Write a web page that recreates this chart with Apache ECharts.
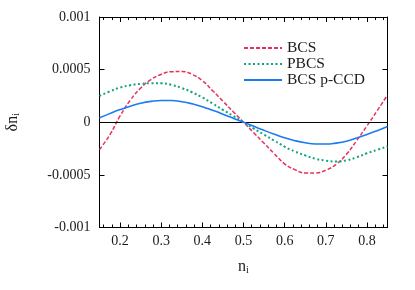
<!DOCTYPE html>
<html>
<head>
<meta charset="utf-8">
<script src="https://cdn.jsdelivr.net/npm/echarts@6/dist/echarts.min.js"></script>
<style>html,body{margin:0;padding:0;background:#fff}#c{width:415px;height:290px}</style>
</head>
<body>
<div id="c"></div>
<script>
const nValues = [0.15,0.175,0.2,0.225,0.25,0.275,0.3,0.325,0.35,0.375,0.4,0.425,0.45,0.475,0.5,0.525,0.55,0.575,0.6,0.625,0.65,0.675,0.7,0.725,0.75,0.775,0.8,0.825,0.85];
const bcs = [-0.00026,-0.00012,0.00006,0.00021,0.000325,0.000405,0.000455,0.00048,0.000482,0.000455,0.000395,0.0003,0.0002,0.0001,0,-0.0001,-0.0002,-0.0003,-0.000395,-0.00045,-0.000482,-0.000482,-0.000455,-0.0004,-0.000305,-0.000175,-0.000035,0.00011,0.00026];
const pbcs = [0.00025,0.000293,0.00033,0.000352,0.000365,0.000371,0.00037,0.000355,0.000325,0.000285,0.000235,0.000178,0.000118,0.00006,0,-0.00006,-0.000118,-0.000175,-0.000232,-0.000278,-0.000315,-0.000347,-0.000365,-0.000374,-0.000362,-0.000333,-0.000295,-0.000262,-0.00023];
const pccd = [0.000042,0.000082,0.00012,0.000153,0.00018,0.000198,0.000207,0.000206,0.000195,0.000175,0.000147,0.000113,0.000077,0.000039,0,-0.000039,-0.000077,-0.000113,-0.000147,-0.000175,-0.000195,-0.000206,-0.000207,-0.000198,-0.00018,-0.00015,-0.000117,-0.00008,-0.00004];
const seriesNames = ['BCS','PBCS','BCS p-CCD'];
const xMajorTicks = [0.2,0.3,0.4,0.5,0.6,0.7,0.8];
const xMinorTicks = [0.16,0.18,0.22,0.24,0.26,0.28,0.32,0.34,0.36,0.38,0.42,0.44,0.46,0.48,0.52,0.54,0.56,0.58,0.62,0.64,0.66,0.68,0.72,0.74,0.76,0.78,0.82,0.84];
const yTickLabels = {'0.001':'0.001','0.0005':'0.0005','0':'0','-0.0005':'-0.0005','-0.001':'-0.001'};

const FONT = 'Liberation Serif';
const txt = {fontFamily: FONT, fontSize: 14, color: '#1a1a1a'};
const X0 = 0.15, X1 = 0.85;
const nameRich = {
  a: {fontFamily: FONT, fontSize: 16, color: '#1a1a1a'},
  b: {fontFamily: FONT, fontSize: 10, color: '#1a1a1a', verticalAlign: 'bottom', padding: [8, 0, 0, 0]}
};

function xAxisDef(pos, ticks, len, showLabel, name) {
  return {
    type: 'value', position: pos, min: X0, max: X1,
    axisLine: {show: true, onZero: false, lineStyle: {color: '#000', width: 1}},
    axisTick: {show: true, inside: true, length: len, customValues: ticks, lineStyle: {color: '#000', width: 1}},
    axisLabel: showLabel ? Object.assign({show: true, margin: 7, customValues: ticks,
      formatter: v => String(Math.round(v * 10) / 10)}, txt) : {show: false},
    splitLine: {show: false},
    name: name || '', nameLocation: 'middle', nameGap: 30,
    nameTextStyle: {fontFamily: FONT, fontSize: 16, color: '#1a1a1a', rich: nameRich}
  };
}
function yAxisDef(pos, showLabel, name) {
  return {
    type: 'value', position: pos, min: -0.001, max: 0.001, interval: 0.0005,
    axisLine: {show: true, onZero: false, lineStyle: {color: '#000', width: 1}},
    axisTick: {show: true, inside: true, length: 5, lineStyle: {color: '#000', width: 1}},
    axisLabel: showLabel ? Object.assign({show: true, margin: 9,
      formatter: v => { const k = String(+v.toFixed(4)); return yTickLabels[k] !== undefined ? yTickLabels[k] : k; }}, txt) : {show: false},
    splitLine: {show: false},
    name: name || '', nameLocation: 'middle', nameRotate: 90, nameGap: 78,
    nameTextStyle: {fontFamily: FONT, fontSize: 16, color: '#1a1a1a', rich: nameRich}
  };
}

const colors = ['#e6325a', '#12a37a', '#1a7bf0'];
const dashes = [[4, 2], [2, 2.5], 'solid'];
const widths = [1.5, 2, 1.6];
const datasets = [bcs, pbcs, pccd];

const series = seriesNames.map((nm, k) => ({
  name: nm, type: 'line', xAxisIndex: 0, yAxisIndex: 0,
  data: nValues.map((n, i) => [n, datasets[k][i]]),
  smooth: true, showSymbol: false, symbol: 'none', clip: true,
  lineStyle: {color: colors[k], width: widths[k], type: dashes[k]},
  itemStyle: {color: colors[k]},
  z: 3 + k
}));
series[0].markLine = {
  silent: true, symbol: ['none', 'none'], label: {show: false},
  lineStyle: {color: '#000', width: 1, type: 'solid'},
  data: [{yAxis: 0}], animation: false
};

const chart = echarts.init(document.getElementById('c'), null, {renderer: 'canvas'});
chart.setOption({
  animation: false,
  backgroundColor: '#fff',
  grid: {left: 99.5, right: 27.5, top: 17, bottom: 62.5, show: false, containLabel: false, outerBoundsMode: 'none'},
  xAxis: [
    xAxisDef('bottom', xMajorTicks, 5, true, '{a|n}{b|i}'),
    xAxisDef('top', xMajorTicks, 5, false),
    xAxisDef('bottom', xMinorTicks, 3, false),
    xAxisDef('top', xMinorTicks, 3, false)
  ],
  yAxis: [
    yAxisDef('left', true, '{a|δn}{b|i}'),
    yAxisDef('right', false)
  ],
  legend: {
    orient: 'vertical', left: 238, top: 35,
    itemWidth: 38, itemHeight: 10, itemGap: 0,
    itemStyle: {opacity: 0},
    textStyle: {fontFamily: FONT, fontSize: 15.5, color: '#1a1a1a', lineHeight: 15},
    data: seriesNames.map(n => ({name: n}))
  },
  series: series
});
</script>
</body>
</html>
